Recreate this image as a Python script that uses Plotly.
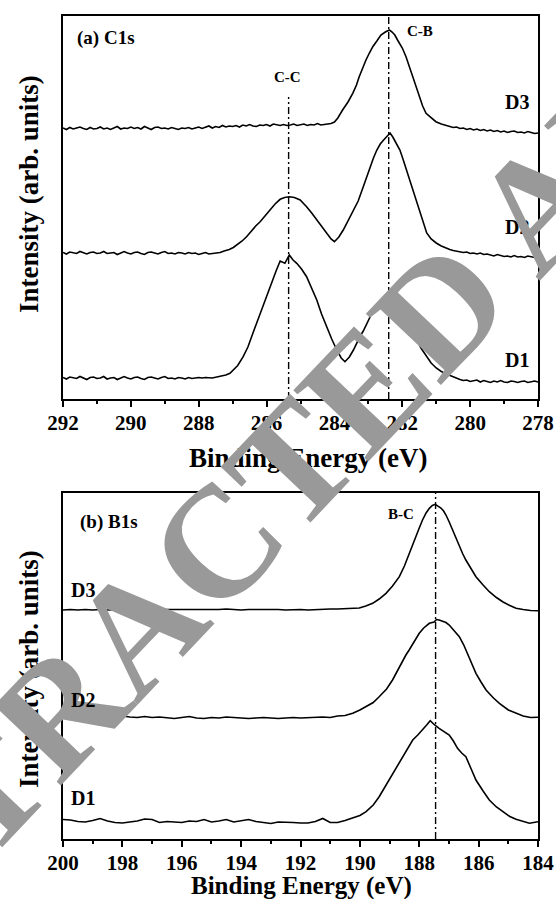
import plotly.graph_objects as go

W, H = 556, 899
SERIF = "Liberation Serif, Times New Roman, serif"

# ---------------- (a) C1s data (intensity in arb. units) ----------------
c1s_left_energy = [292.0, 291.9, 291.8, 291.7, 291.6, 291.5, 291.4, 291.3, 291.2, 291.1,
                   291.0, 290.9, 290.8, 290.7, 290.6, 290.5, 290.4, 290.3, 290.2, 290.1,
                   290.0, 289.9, 289.8, 289.7, 289.6, 289.5, 289.4, 289.3, 289.2, 289.1,
                   289.0, 288.9, 288.8, 288.7, 288.6, 288.5, 288.4, 288.3, 288.2, 288.1,
                   288.0, 287.9, 287.8]
c1s_right_energy = [280.4, 280.3, 280.2, 280.1, 280.0, 279.9, 279.8, 279.7, 279.6, 279.5,
                    279.4, 279.3, 279.2, 279.1, 279.0, 278.9, 278.8, 278.7, 278.6, 278.5,
                    278.4, 278.3, 278.2, 278.1, 278.0]

c1s_d1_left = [21.5, 20.0, 22.0, 21.0, 20.5, 22.5, 21.0, 19.5, 21.5, 22.0,
               20.5, 21.0, 22.5, 20.0, 21.0, 21.5, 19.5, 21.0, 22.5, 21.0,
               20.0, 21.5, 22.0, 20.5, 19.5, 21.5, 22.0, 21.0, 20.0, 21.5,
               22.5, 20.5, 21.0, 20.0, 21.5, 21.0, 20.0, 21.5, 20.5, 21.0,
               21.5, 21.0, 21.5]
c1s_d1_peak_energy = [287.6, 287.37, 287.2, 287.08, 286.98, 286.85, 286.69, 286.55, 286.39, 286.25,
                      286.10, 285.98, 285.85, 285.72, 285.60, 285.46, 285.33, 285.22, 285.11, 284.97,
                      284.82, 284.67, 284.52, 284.38, 284.23, 284.08, 283.93, 283.80, 283.69, 283.56,
                      283.44, 283.35, 283.25, 283.15, 283.05, 282.95, 282.85, 282.73, 282.61, 282.48,
                      282.36, 282.22, 282.07, 281.97, 281.87, 281.75, 281.60, 281.45, 281.30, 281.15,
                      281.00, 280.85, 280.70, 280.60, 280.50]
c1s_d1_peak = [21.0, 22.3, 24.0, 25.7, 29.0, 33.5, 42.3, 52.0, 67.0, 80.0,
               92.3, 103.0, 115.7, 128.0, 138.0, 135.7, 144.0, 139.0, 135.7, 130.0,
               122.3, 111.0, 99.0, 85.0, 72.3, 60.0, 49.0, 41.0, 37.3, 42.0,
               49.0, 56.0, 62.3, 68.0, 75.7, 82.0, 89.0, 95.0, 99.0, 101.0,
               102.3, 99.0, 92.3, 86.0, 79.0, 70.0, 61.0, 51.0, 43.0, 36.0,
               31.0, 27.5, 25.0, 23.5, 22.0]
c1s_d1_right = [21.0, 19.5, 18.5, 19.0, 17.5, 18.0, 19.0, 17.0, 18.5, 17.5,
                16.5, 18.0, 17.0, 18.5, 17.0, 16.5, 18.0, 17.5, 16.5, 17.5,
                18.0, 16.5, 17.0, 18.0, 17.0]

c1s_d2_left = [146.5, 145.0, 147.0, 146.0, 145.5, 147.5, 146.0, 145.0, 146.5, 147.0,
               145.5, 146.0, 147.5, 145.5, 146.0, 146.5, 144.5, 146.0, 147.5, 146.0,
               145.0, 146.5, 147.0, 145.5, 144.5, 146.5, 147.0, 146.0, 145.0, 146.5,
               147.5, 145.5, 146.0, 145.0, 146.5, 146.0, 145.0, 146.5, 145.5, 146.0,
               144.5, 145.5, 146.5]
c1s_d2_peak_energy = [287.7, 287.6, 287.47, 287.37, 287.25, 287.1, 286.98, 286.85, 286.72, 286.59,
                      286.45, 286.32, 286.19, 286.05, 285.90, 285.75, 285.60, 285.47, 285.33, 285.18,
                      285.01, 284.90, 284.82, 284.67, 284.52, 284.38, 284.23, 284.10, 284.00, 283.87,
                      283.74, 283.60, 283.44, 283.30, 283.15, 283.05, 282.95, 282.85, 282.75, 282.65,
                      282.55, 282.45, 282.36, 282.28, 282.20, 282.07, 281.98, 281.85, 281.68, 281.55,
                      281.42, 281.28, 281.15, 281.00, 280.85, 280.70, 280.60, 280.50]
c1s_d2_peak = [145.0, 145.5, 145.7, 146.5, 148.0, 149.5, 151.5, 154.5, 158.0, 162.3,
               168.0, 173.0, 177.3, 183.0, 189.0, 195.0, 199.7, 201.5, 202.3, 201.5,
               199.0, 195.5, 192.3, 186.0, 179.0, 172.0, 165.7, 160.0, 157.3, 162.0,
               169.0, 178.0, 189.0, 198.0, 212.3, 222.0, 232.3, 241.0, 249.0, 255.0,
               259.0, 263.0, 266.0, 262.0, 257.0, 249.0, 240.0, 226.0, 209.0, 194.0,
               180.0, 166.0, 160.0, 156.0, 153.0, 150.5, 149.5, 148.5]
c1s_d2_right = [148.0, 147.0, 146.5, 147.0, 145.5, 146.0, 145.0, 146.0, 144.5, 145.0,
                144.0, 143.0, 144.5, 143.5, 142.5, 143.0, 142.0, 143.5, 142.0, 142.5,
                141.5, 143.0, 142.0, 141.5, 142.0]

c1s_d3_left_energy = c1s_left_energy + [
    287.7, 287.6, 287.5, 287.4, 287.3, 287.2, 287.1, 287.0, 286.9, 286.8,
    286.7, 286.6, 286.5, 286.4, 286.3, 286.2, 286.1, 286.0, 285.9, 285.8,
    285.7, 285.6, 285.5, 285.4, 285.3, 285.2, 285.1, 285.0, 284.9, 284.8,
    284.7, 284.6, 284.5, 284.4, 284.3, 284.2]
c1s_d3_left = [271.0, 269.5, 271.5, 270.0, 271.0, 272.0, 270.5, 269.5, 271.5, 270.0,
               270.5, 272.0, 270.0, 271.0, 269.5, 271.0, 272.5, 270.0, 271.0, 270.5,
               272.0, 270.5, 271.5, 270.0, 272.5, 271.0, 269.5, 271.5, 272.0, 270.5,
               271.0, 270.0, 271.5, 270.5, 269.5, 271.0, 270.5, 271.5, 270.0, 271.0,
               272.0, 270.5, 271.5, 273.0, 271.0, 272.5, 271.5, 273.5, 272.0, 273.0,
               272.5, 273.5, 272.0, 274.0, 273.0, 274.5, 273.0, 272.5, 274.0, 273.5,
               274.5, 273.0, 275.0, 274.0, 273.5, 274.5, 273.5, 274.0, 275.0, 273.5,
               274.0, 275.0, 273.5, 274.5, 274.0, 275.5, 274.0, 274.5, 275.0]
c1s_d3_peak_energy = [284.1, 284.0, 283.9, 283.76, 283.6, 283.46, 283.35, 283.27, 283.17, 283.07,
                      282.97, 282.87, 282.75, 282.63, 282.5, 282.38, 282.3, 282.22, 282.14, 282.0,
                      281.89, 281.80, 281.70, 281.60, 281.50, 281.40, 281.30, 281.15, 281.01, 280.85,
                      280.7]
c1s_d3_peak = [275.5, 277.0, 281.0, 289.0, 297.0, 305.7, 314.0, 322.3, 331.0, 339.0,
               346.0, 352.3, 358.0, 364.0, 367.0, 369.0, 367.0, 364.0, 359.0, 351.0,
               342.3, 333.0, 322.3, 312.0, 302.3, 293.0, 285.7, 281.0, 277.3, 275.0,
               273.5]
c1s_d3_right_energy = [280.6, 280.5] + c1s_right_energy
c1s_d3_right = [272.5, 271.5, 272.0, 270.5, 271.0, 269.5, 270.5, 269.0, 270.0, 268.5,
                269.5, 268.0, 269.0, 267.5, 268.5, 267.0, 268.0, 266.5, 267.5, 268.0,
                266.5, 267.0, 266.0, 267.5, 266.5, 265.5, 266.0]

c1s_ref_energy = [285.35, 282.4]
c1s_ref_top = [302.0, 383.0]
c1s_range = [292, 278]
c1s_ymax = 383.0

# ---------------- (b) B1s data ----------------
b1s_left_energy = [200.0, 199.75, 199.5, 199.25, 199.0, 198.75, 198.5, 198.25, 198.0, 197.75,
                   197.5, 197.25, 197.0, 196.75, 196.5, 196.25, 196.0, 195.75, 195.5, 195.25,
                   195.0, 194.75, 194.5, 194.25, 194.0, 193.75, 193.5, 193.25, 193.0, 192.75,
                   192.5, 192.25, 192.0, 191.75, 191.5, 191.25, 191.0, 190.75, 190.5]

b1s_d1_left = [19.5, 19.0, 17.5, 17.0, 18.5, 20.5, 18.0, 16.5, 16.0, 17.0,
               18.0, 20.0, 19.5, 16.5, 17.5, 17.0, 16.5, 18.0, 17.5, 19.5,
               17.0, 18.0, 19.5, 17.0, 18.5, 19.5, 17.5, 16.5, 15.5, 17.0,
               17.0, 16.5, 16.0, 16.0, 17.5, 20.5, 16.5, 16.5, 18.5]
b1s_d1_peak_energy = [190.24, 190.0, 189.79, 189.55, 189.35, 189.1, 188.90, 188.72, 188.56, 188.4,
                      188.22, 188.05, 187.89, 187.75, 187.63, 187.5, 187.33, 187.15, 186.99, 186.85,
                      186.71, 186.57, 186.43, 186.25, 186.09, 185.85, 185.64, 185.4, 185.19, 184.95,
                      184.74, 184.5, 184.29, 184.0]
b1s_d1_peak = [20.7, 23.5, 27.3, 34.0, 42.3, 55.0, 65.7, 74.0, 82.3, 91.0,
               99.0, 104.0, 109.0, 114.0, 118.3, 114.5, 110.7, 107.0, 104.0, 98.0,
               90.7, 86.0, 82.3, 70.0, 59.0, 48.0, 39.0, 32.0, 27.3, 22.5,
               19.7, 17.5, 15.7, 17.3]

b1s_d2_left = [122.0, 121.5, 122.5, 121.0, 122.0, 121.5, 120.5, 121.0, 123.0, 122.0,
               121.5, 122.5, 121.5, 122.0, 121.0, 120.5, 121.5, 122.5, 121.0, 120.5,
               121.5, 121.0, 122.0, 121.5, 121.0, 120.5, 121.0, 121.5, 121.0, 120.5,
               121.0, 121.5, 121.0, 121.5, 122.0, 122.0, 121.5, 123.0, 123.5]
b1s_d2_peak_energy = [190.24, 190.0, 189.79, 189.55, 189.35, 189.1, 188.90, 188.72, 188.56, 188.45,
                      188.34, 188.15, 188.00, 187.85, 187.66, 187.5, 187.42, 187.33, 187.2, 187.1,
                      186.99, 186.85, 186.65, 186.5, 186.32, 186.2, 186.09, 185.92, 185.75, 185.5,
                      185.30, 185.0, 184.74, 184.5, 184.25, 184.0]
b1s_d2_peak = [125.7, 129.0, 132.3, 136.5, 142.3, 150.0, 159.0, 169.0, 179.0, 184.0,
               189.0, 199.0, 205.7, 211.0, 215.7, 217.0, 219.5, 219.0, 217.5, 216.5,
               214.0, 209.0, 202.3, 194.0, 182.3, 173.0, 165.7, 157.0, 149.0, 141.0,
               135.7, 129.0, 125.7, 123.0, 121.5, 121.7]

b1s_d3_left = [229.0, 229.5, 229.0, 229.5, 229.0, 229.5, 229.0, 229.5, 229.5, 229.0,
               229.5, 230.0, 229.5, 229.5, 229.0, 229.5, 229.5, 229.0, 229.5, 229.5,
               229.0, 229.5, 230.0, 229.5, 229.0, 229.5, 229.5, 230.0, 229.5, 229.5,
               229.0, 229.5, 229.5, 229.0, 229.5, 229.5, 230.0, 230.0, 230.5]
b1s_d3_peak_energy = [190.25, 190.02, 189.8, 189.57, 189.35, 189.12, 188.9, 188.67, 188.5, 188.34,
                      188.22, 188.11, 188.0, 187.89, 187.77, 187.66, 187.56, 187.46, 187.37, 187.27,
                      187.18, 187.10, 186.99, 186.88, 186.76, 186.65, 186.54, 186.43, 186.25, 186.09,
                      185.85, 185.64, 185.4, 185.19, 184.95, 184.74, 184.5, 184.25, 184.0]
b1s_d3_peak = [230.5, 231.0, 233.0, 235.7, 240.0, 245.7, 253.0, 262.3, 273.0, 285.7,
               294.0, 302.3, 311.0, 319.0, 326.0, 330.7, 333.5, 334.7, 333.0, 331.0,
               328.0, 324.0, 317.0, 309.0, 300.5, 292.3, 285.5, 279.0, 270.0, 262.3,
               254.0, 247.3, 241.5, 237.3, 233.5, 230.7, 229.5, 228.5, 228.3]

b1s_ref_energy = [187.45]
b1s_ref_top = [346.0]
b1s_range = [200, 184]
b1s_ymax = 346.0

sample_labels = ["D1", "D2", "D3"]
bond_labels_c1s = ["C-C", "C-B"]
bond_labels_b1s = ["B-C"]
panel_titles = ["(a) C1s", "(b) B1s"]
x_title = "Binding Energy (eV)"
y_title = "Intensity (arb. units)"
watermark = "RETRACTED ARTICLE"

# ---------------- figure ----------------
fig = go.Figure()
curve = dict(color="black", width=1.6)
refline = dict(color="black", width=1.4, dash="7px,3px,2px,3px")

c1s_series = [
    (c1s_left_energy + c1s_d1_peak_energy + c1s_right_energy, c1s_d1_left + c1s_d1_peak + c1s_d1_right),
    (c1s_left_energy + c1s_d2_peak_energy + c1s_right_energy, c1s_d2_left + c1s_d2_peak + c1s_d2_right),
    (c1s_d3_left_energy + c1s_d3_peak_energy + c1s_d3_right_energy, c1s_d3_left + c1s_d3_peak + c1s_d3_right),
]
for name, (e, i) in zip(sample_labels, c1s_series):
    fig.add_trace(go.Scatter(x=e, y=i, mode="lines", line=curve, name=name, xaxis="x", yaxis="y"))
for e, top in zip(c1s_ref_energy, c1s_ref_top):
    fig.add_trace(go.Scatter(x=[e, e], y=[0, top], mode="lines", line=refline, xaxis="x", yaxis="y"))

b1s_series = [
    (b1s_left_energy + b1s_d1_peak_energy, b1s_d1_left + b1s_d1_peak),
    (b1s_left_energy + b1s_d2_peak_energy, b1s_d2_left + b1s_d2_peak),
    (b1s_left_energy + b1s_d3_peak_energy, b1s_d3_left + b1s_d3_peak),
]
for name, (e, i) in zip(sample_labels, b1s_series):
    fig.add_trace(go.Scatter(x=e, y=i, mode="lines", line=curve, name=name, xaxis="x2", yaxis="y2"))
for e, top in zip(b1s_ref_energy, b1s_ref_top):
    fig.add_trace(go.Scatter(x=[e, e], y=[0, top], mode="lines", line=refline, xaxis="x2", yaxis="y2"))


def fx(p):
    return p / W


def fy(p):
    return 1 - p / H


tickfont = dict(family=SERIF, size=21, color="black", weight="bold")
xcommon = dict(showline=True, linecolor="black", linewidth=2, mirror=True,
               ticks="outside", ticklen=6, tickwidth=2, tickcolor="black",
               dtick=2, tick0=0, showgrid=False, zeroline=False, tickfont=tickfont,
               automargin=False, ticklabelstandoff=-2,
               minor=dict(ticks="outside", ticklen=3, tickwidth=1.5, tickcolor="black",
                          dtick=1, tick0=0, showgrid=False))
ycommon = dict(showline=True, linecolor="black", linewidth=2, mirror=True, automargin=False,
               ticks="", showticklabels=False, showgrid=False, zeroline=False)

fig.update_layout(
    width=W, height=H, margin=dict(l=0, r=0, t=0, b=0, pad=0, autoexpand=False),
    paper_bgcolor="white", plot_bgcolor="white", showlegend=False,
    xaxis=dict(domain=[fx(63), fx(538)], range=c1s_range, anchor="y", **xcommon),
    yaxis=dict(domain=[fy(399), fy(16)], range=[0, c1s_ymax], anchor="x", **ycommon),
    xaxis2=dict(domain=[fx(63), fx(538)], range=b1s_range, anchor="y2", **xcommon),
    yaxis2=dict(domain=[fy(839), fy(493)], range=[0, b1s_ymax], anchor="x2", **ycommon),
)


def label(text, x, y, size, xanchor="center", angle=0, color="black", weight="bold"):
    fig.add_annotation(text=text, x=fx(x), y=fy(y), xref="paper", yref="paper",
                       showarrow=False, xanchor=xanchor, yanchor="middle", textangle=angle,
                       font=dict(family=SERIF, size=size, color=color, weight=weight))


# panel (a)
label(panel_titles[0], 75, 38, 19, xanchor="left")
label(bond_labels_c1s[0], 287, 77, 15)
label(bond_labels_c1s[1], 420, 31, 15)
label(sample_labels[2], 517, 102, 20)
label(sample_labels[1], 517, 227, 20)
label(sample_labels[0], 517, 360, 20)
label(x_title, 308, 458, 27)
label(y_title, 29, 194, 27, angle=-90)

# panel (b)
label(panel_titles[1], 78, 522, 19, xanchor="left")
label(bond_labels_b1s[0], 401, 514, 15)
label(sample_labels[2], 83, 590, 20)
label(sample_labels[0], 83, 798, 20)
label(x_title, 301, 886, 25)
label(y_title, 29, 669, 27, angle=-90)

# watermark (drawn on top of the chart)
label(watermark, 393, 357, 158, angle=-46.5, color="#999999")

# this label stays visible inside the watermark letter in the reference
label(sample_labels[1], 83, 700, 20)

fig.write_html("out.html")
